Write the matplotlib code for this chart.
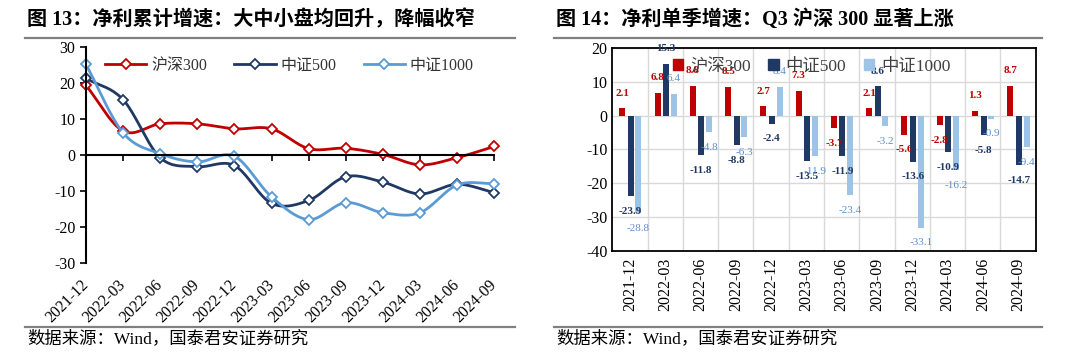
import numpy as np
import matplotlib.pyplot as plt
from matplotlib.lines import Line2D
from matplotlib.patches import Patch

plt.rcParams['font.family'] = ['Liberation Serif', 'Noto Sans CJK SC']
plt.rcParams['axes.unicode_minus'] = False

# 数据
dates = ['2021-12', '2022-03', '2022-06', '2022-09', '2022-12', '2023-03',
         '2023-06', '2023-09', '2023-12', '2024-03', '2024-06', '2024-09']
names = ['沪深300', '中证500', '中证1000']

# 净利累计增速
hs300_cum = [19.4, 6.7, 8.7, 8.7, 7.3, 7.3, 1.8, 1.9, 0.2, -2.7, -0.7, 2.4]
zz500_cum = [21.3, 15.4, -0.7, -3.2, -2.9, -13.4, -12.6, -6.0, -7.5, -10.8, -8.1, -10.4]
zz1000_cum = [25.2, 6.2, 0.4, -1.9, -0.3, -11.6, -17.9, -13.2, -16.0, -16.0, -8.3, -7.9]

# 净利单季增速
hs300_q = [2.1, 6.8, 8.8, 8.5, 2.7, 7.3, -3.7, 2.1, -5.6, -2.8, 1.3, 8.7]
zz500_q = [-23.9, 15.3, -11.8, -8.8, -2.4, -13.5, -11.9, 8.6, -13.6, -10.9, -5.8, -14.7]
zz1000_q = [-28.8, 6.4, -4.8, -6.3, 8.4, -11.9, -23.4, -3.2, -33.1, -16.2, -0.9, -9.4]

RED = '#C00000'
NAVY = '#203864'
BLUE = '#5B9BD5'
LBLUE = '#9DC3E6'


# 平滑曲线 (类似Excel的平滑线)
def smooth(y, n=20):
    p = np.array(y, float)
    pad = np.concatenate([[2 * p[0] - p[1]], p, [2 * p[-1] - p[-2]]])
    t = np.linspace(0, 1, n, endpoint=False)
    xs, ys = [], []
    for i in range(len(p) - 1):
        p0, p1, p2, p3 = pad[i:i + 4]
        ys.append(0.5 * (2 * p1 + (-p0 + p2) * t + (2 * p0 - 5 * p1 + 4 * p2 - p3) * t ** 2
                         + (-p0 + 3 * p1 - 3 * p2 + p3) * t ** 3))
        xs.append(i + t)
    xs.append([len(p) - 1])
    ys.append([p[-1]])
    return np.concatenate(xs), np.concatenate(ys)


fig = plt.figure(figsize=(10.8, 3.57), dpi=100)

# 标题、分隔线、数据来源
for x0, x1, title in [(0.023, 0.477, '图 13：净利累计增速：大中小盘均回升，降幅收窄'),
                      (0.513, 0.965, '图 14：净利单季增速：Q3 沪深 300 显著上涨')]:
    fig.text(x0 + 0.002, 0.944, title, fontsize=14.5, fontweight='bold', va='center')
    fig.add_artist(Line2D([x0, x1], [0.893, 0.893], color='#808080', lw=1.6))
    fig.add_artist(Line2D([x0, x1], [0.084, 0.084], color='#808080', lw=1.6))
    fig.text(x0 + 0.002, 0.05, '数据来源：Wind，国泰君安证券研究', fontsize=12.5, va='center')

# 图13 折线
ax1 = fig.add_axes([0.0796, 0.263, 0.378, 0.605])
x = np.arange(len(dates))
for vals, c, name in [(hs300_cum, RED, names[0]), (zz500_cum, NAVY, names[1]), (zz1000_cum, BLUE, names[2])]:
    sx, sy = smooth(vals)
    ax1.plot(sx, sy, color=c, lw=2, clip_on=False)
    ax1.plot(x, vals, ls='none', marker='D', ms=5, mfc='white', mec=c, mew=1.3, clip_on=False)
handles = [Line2D([], [], color=c, lw=2, marker='D', ms=5, mfc='white', mec=c, mew=1.3)
           for c in (RED, NAVY, BLUE)]
ax1.legend(handles, names, loc='center left', bbox_to_anchor=(0.097, 0.816),
           bbox_transform=fig.transFigure, ncol=3, frameon=False, fontsize=11.5,
           borderpad=0, borderaxespad=0, handlelength=2.6, handletextpad=0.3,
           columnspacing=1.7, labelcolor='#333333')
ax1.set_xlim(0, 11)
ax1.set_ylim(-30, 30)
ax1.set_yticks(range(-30, 31, 10))
for s in ['top', 'right']:
    ax1.spines[s].set_visible(False)
ax1.spines['bottom'].set_position(('data', 0))
ax1.spines['left'].set_linewidth(1.5)
ax1.spines['bottom'].set_linewidth(1.5)
ax1.set_xticks(x)
ax1.tick_params(axis='x', length=4, width=1.2, labelbottom=False)
ax1.tick_params(axis='y', length=4, width=1.2, labelsize=11.5)
sec = ax1.secondary_xaxis('bottom')
sec.set_xticks(x, dates, rotation=45, ha='right', va='center', rotation_mode='anchor')
sec.tick_params(length=0, pad=14, labelsize=11.5)
sec.spines['bottom'].set_visible(False)

# 图14 柱状图
ax2 = fig.add_axes([0.567, 0.297, 0.392, 0.569])
w = 0.17
for vals, off, c, tc, fw in [(hs300_q, -0.22, RED, RED, 'bold'),
                             (zz500_q, 0.02, NAVY, NAVY, 'bold'),
                             (zz1000_q, 0.24, LBLUE, '#5B8FD0', 'normal')]:
    ax2.bar(x + off, vals, w, color=c, zorder=2)
    for xi, v in zip(x, vals):
        ax2.annotate(f'{v:.1f}', (xi + off, v), xytext=(0, 11 if v >= 0 else -11),
                     textcoords='offset points', ha='center', va='center',
                     fontsize=8, color=tc, fontweight=fw, annotation_clip=False, zorder=3)
ax2.set_xlim(-0.5, 11.5)
ax2.set_ylim(-40, 20)
ax2.set_yticks(range(-40, 21, 10))
ax2.set_xticks(x, dates, rotation=90)
ax2.set_xticks(np.arange(0.5, 11.5, 1), minor=True)
ax2.grid(axis='y', which='major', color='#D9D9D9', lw=1, zorder=0)
ax2.grid(axis='x', which='minor', color='#D9D9D9', lw=1, zorder=0)
ax2.tick_params(which='both', length=0, labelsize=11.5)
ax2.tick_params(axis='x', pad=5)
for s in ax2.spines.values():
    s.set_linewidth(1.3)
bh = [Patch(color=c) for c in (RED, NAVY, LBLUE)]
ax2.legend(bh, names, loc='center left', bbox_to_anchor=(0.623, 0.813),
           bbox_transform=fig.transFigure, ncol=3, frameon=False, fontsize=12.5,
           borderpad=0, borderaxespad=0, handlelength=0.6, handleheight=0.6,
           handletextpad=0.4, columnspacing=1.0, labelcolor='#404040')

fig.savefig('out.png', dpi=100)
